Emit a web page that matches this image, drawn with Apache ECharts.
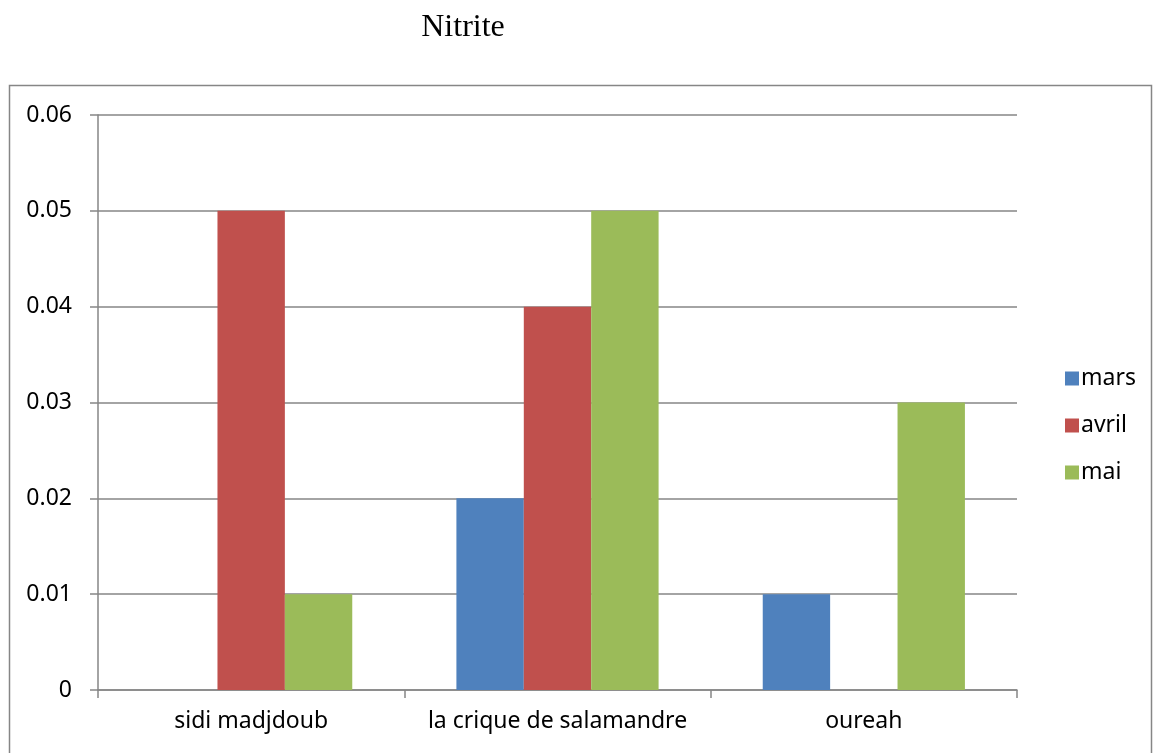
<!DOCTYPE html>
<html>
<head>
<meta charset="utf-8">
<script src="https://cdn.jsdelivr.net/npm/echarts@6/dist/echarts.min.js"></script>
<style>
  html, body { margin: 0; padding: 0; background: #fff; }
  #chart { width: 1153px; height: 753px; }
</style>
</head>
<body>
<div id="chart"></div>
<script>
// Nitrite concentrations per station and month
const stations = ['sidi madjdoub', 'la crique de salamandre', 'oureah'];
const mars  = [0, 0.02, 0.01];
const avril = [0.05, 0.04, 0];
const mai   = [0.01, 0.05, 0.03];
const months = ['mars', 'avril', 'mai'];
const colors = ['#4F81BD', '#C0504D', '#9BBB59'];

const axisGray = '#868686';
const labelFont = '"Noto Sans", "Open Sans", sans-serif';

const chart = echarts.init(document.getElementById('chart'), null, { renderer: 'canvas' });

const seriesData = [mars, avril, mai];

chart.setOption({
  animation: false,
  backgroundColor: '#fff',
  title: {
    text: 'Nitrite',
    left: 458,
    textAlign: 'center',
    top: 7,
    textStyle: { fontFamily: '"Liberation Serif", serif', fontSize: 32, fontWeight: 'normal', color: '#000' }
  },
  graphic: [{
    type: 'rect',
    shape: { x: 9.5, y: 85.5, width: 1142, height: 700 },
    style: { fill: null, stroke: axisGray, lineWidth: 1.5 },
    silent: true,
    z: -1
  }],
  legend: {
    orient: 'vertical',
    left: 1060,
    top: 362,
    itemWidth: 14,
    itemHeight: 14,
    itemGap: 24,
    icon: 'rect',
    data: months,
    textStyle: { fontFamily: labelFont, fontSize: 23, color: '#000', padding: [0, 0, 0, -3] }
  },
  grid: { left: 98, right: 136, top: 115, bottom: 63, containLabel: false },
  xAxis: {
    type: 'category',
    data: stations,
    axisLine: { lineStyle: { color: axisGray, width: 1.5 } },
    axisTick: { show: true, interval: 0, length: 8, lineStyle: { color: axisGray, width: 1.5 } },
    axisLabel: { interval: 0, fontFamily: labelFont, fontSize: 23, color: '#000', margin: 20 },
    splitLine: { show: false }
  },
  yAxis: {
    type: 'value',
    min: 0,
    max: 0.06,
    interval: 0.01,
    axisLine: { show: true, lineStyle: { color: axisGray, width: 1.5 } },
    axisTick: { show: true, length: 8, lineStyle: { color: axisGray, width: 1.5 } },
    axisLabel: {
      fontFamily: labelFont, fontSize: 23, color: '#000', margin: 26,
      formatter: v => (v === 0 ? '0' : v.toFixed(2))
    },
    splitLine: { lineStyle: { color: axisGray, width: 1.5 } }
  },
  series: months.map((m, i) => ({
    name: m,
    type: 'bar',
    data: seriesData[i],
    barGap: '0%',
    barCategoryGap: '34%',
    itemStyle: { color: colors[i] }
  }))
});
</script>
</body>
</html>
